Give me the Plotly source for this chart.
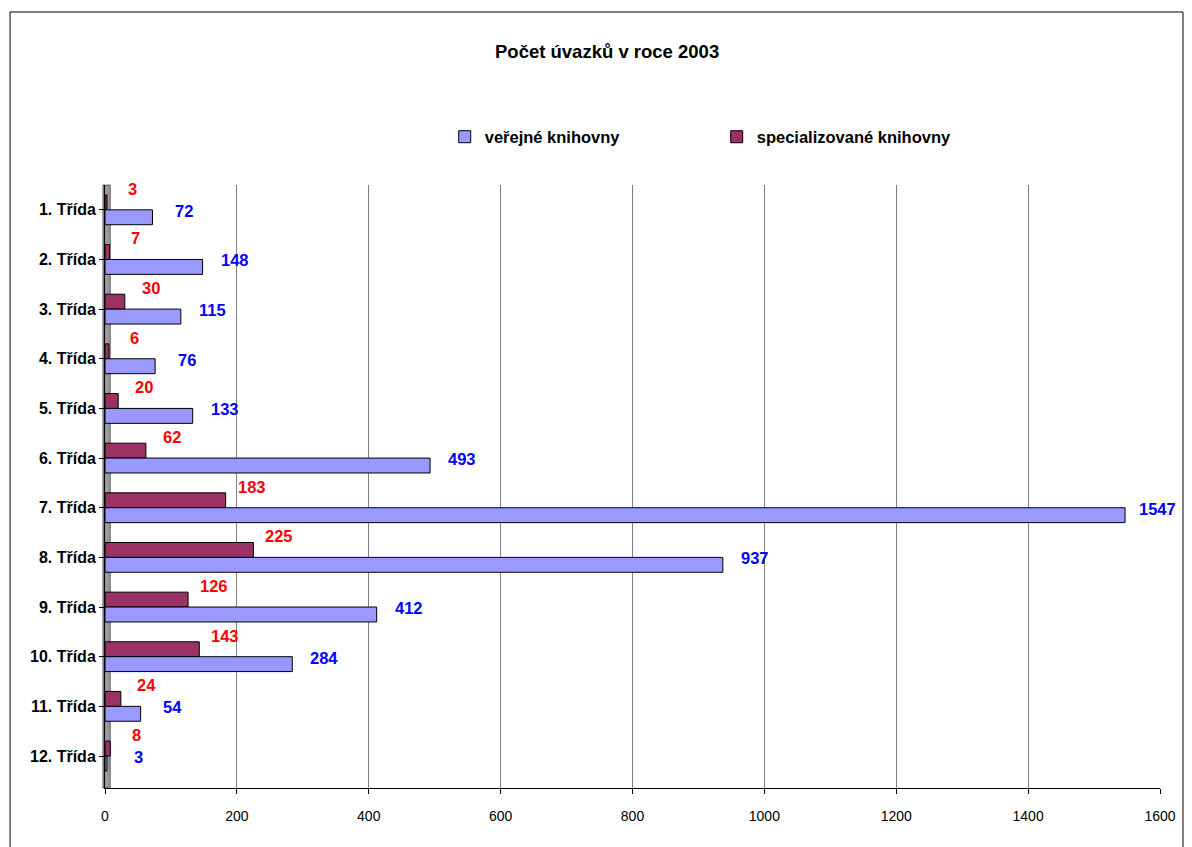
import plotly.graph_objects as go

categories = ["1. Třída", "2. Třída", "3. Třída", "4. Třída", "5. Třída", "6. Třída",
              "7. Třída", "8. Třída", "9. Třída", "10. Třída", "11. Třída", "12. Třída"]
verejne = [72, 148, 115, 76, 133, 493, 1547, 937, 412, 284, 54, 3]
specializovane = [3, 7, 30, 6, 20, 62, 183, 225, 126, 143, 24, 8]
x_ticks = [0, 200, 400, 600, 800, 1000, 1200, 1400, 1600]

FONT = "Liberation Sans, Arial, sans-serif"


def f(size, color="#000000", bold=False):
    d = dict(family=FONT, size=size, color=color)
    if bold:
        d["weight"] = "bold"
    return d


fig = go.Figure()
fig.add_trace(go.Bar(
    y=categories, x=specializovane, orientation="h", name="specializované knihovny",
    marker=dict(color="#993366", line=dict(color="#000000", width=1)), legendrank=2,
))
fig.add_trace(go.Bar(
    y=categories, x=verejne, orientation="h", name="veřejné knihovny",
    marker=dict(color="#9999FF", line=dict(color="#000000", width=1)), legendrank=1,
))

annotations = []
for c, v in zip(categories, verejne):
    annotations.append(dict(x=v, y=c, xref="x", yref="y", text=str(v), showarrow=False,
                            xanchor="center", yanchor="middle", xshift=32, yshift=-1,
                            font=f(16.5, "#0000FF", True)))
for c, v in zip(categories, specializovane):
    annotations.append(dict(x=v, y=c, xref="x", yref="y", text=str(v), showarrow=False,
                            xanchor="center", yanchor="middle", xshift=26, yshift=21,
                            font=f(16.5, "#FF0000", True)))

shapes = [
    dict(type="rect", xref="paper", yref="paper", x0=-0.090, x1=1.0218, y0=-0.2, y1=1.2869,
         line=dict(color="#000000", width=1), fillcolor="rgba(0,0,0,0)", layer="below"),
    dict(type="rect", xref="paper", yref="paper", x0=-0.002, x1=0.005, y0=0.0, y1=1.0,
         line=dict(color="#000000", width=0.5), fillcolor="#9a9a9a", layer="below"),
]

fig.update_layout(
    width=1184, height=839,
    paper_bgcolor="#FFFFFF", plot_bgcolor="#FFFFFF",
    margin=dict(l=97, r=32, t=177, b=59, autoexpand=False),
    barmode="group", bargap=0.4, bargroupgap=0.0,
    title=dict(text="Počet úvazků v roce 2003", x=0.506, xanchor="center", y=0.9476, yanchor="middle",
               font=f(18.5, bold=True)),
    legend=dict(orientation="h", x=0.322, xanchor="left", y=1.0796, yanchor="middle",
                entrywidth=227, entrywidthmode="pixels", traceorder="normal",
                font=f(16.5, bold=True), bgcolor="rgba(0,0,0,0)"),
    xaxis=dict(range=[0, 1600], tickvals=x_ticks, ticktext=[str(t) for t in x_ticks],
               showgrid=True, gridcolor="#808080", gridwidth=1, automargin=False,
               showline=True, linecolor="#000000", linewidth=1,
               ticks="outside", ticklen=5, tickcolor="#000000", ticklabelstandoff=10,
               tickfont=f(14), zeroline=False),
    yaxis=dict(autorange="reversed", showline=True, linecolor="#000000", linewidth=1,
               ticks="outside", ticklen=5, tickcolor="#000000", showgrid=False, automargin=False,
               tickfont=f(16, bold=True)),
    annotations=annotations,
    shapes=shapes,
    showlegend=True,
)

fig.write_html("out.html")
